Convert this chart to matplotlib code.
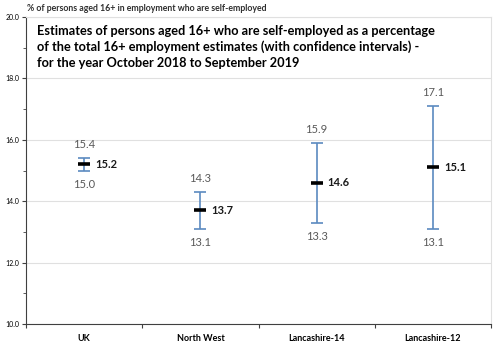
import numpy as np
import matplotlib.pyplot as plt
from matplotlib.ticker import MultipleLocator, FixedLocator

plt.rcParams['font.family'] = ['Lato', 'DejaVu Sans']

# self-employment rate estimates with confidence limits
areas = ['UK', 'North West', 'Lancashire-14', 'Lancashire-12']
estimate = [15.2, 13.7, 14.6, 15.1]
lower = [15.0, 13.1, 13.3, 13.1]
upper = [15.4, 14.3, 15.9, 17.1]

fig = plt.figure(figsize=(5.0, 3.47), dpi=100)
ax = fig.add_axes([0.052, 0.066, 0.93, 0.885])

x = np.arange(len(areas)) + 0.5
est = np.array(estimate)
lo = np.array(lower)
hi = np.array(upper)

ax.errorbar(x, est, yerr=[est - lo, hi - est], fmt='none', ecolor='#5b8ac0',
            elinewidth=1.2, capsize=4, capthick=1.2, zorder=3)
ax.scatter(x, est, marker='_', s=80, linewidths=2.6, color='black', zorder=4)

for xi, e, l, h in zip(x, estimate, lower, upper):
    ax.annotate('%.1f' % e, (xi, e), xytext=(8, 0), textcoords='offset points',
                ha='left', va='center', fontsize=8, fontweight='bold', color='#1a1a1a')
    ax.annotate('%.1f' % h, (xi, h), xytext=(0, 6), textcoords='offset points',
                ha='center', va='bottom', fontsize=8, color='#595959')
    ax.annotate('%.1f' % l, (xi, l), xytext=(0, -6), textcoords='offset points',
                ha='center', va='top', fontsize=8, color='#595959')

ax.set_xlim(0, len(areas))
ax.set_ylim(10, 20)
ax.yaxis.set_major_locator(MultipleLocator(2))
ax.yaxis.set_minor_locator(MultipleLocator(1))
ax.yaxis.set_major_formatter(plt.FuncFormatter(lambda v, p: '%.1f' % v))
ax.tick_params(axis='y', which='both', labelsize=5, direction='out', length=3,
               color='#404040', pad=2)
ax.tick_params(axis='y', which='minor', length=2)

ax.xaxis.set_major_locator(FixedLocator(np.arange(len(areas) + 1)))
ax.xaxis.set_minor_locator(FixedLocator(x))
ax.set_xticklabels([], minor=False)
ax.set_xticklabels(areas, minor=True, fontsize=6.5, fontweight='bold')
ax.tick_params(axis='x', which='major', direction='out', length=3, color='#404040')
ax.tick_params(axis='x', which='minor', length=0, pad=7)

ax.grid(axis='y', which='major', color='#e0e0e0', linewidth=0.8, zorder=0)
ax.set_axisbelow(True)
for side in ['left', 'bottom']:
    ax.spines[side].set_color('#404040')
    ax.spines[side].set_linewidth(0.8)
ax.spines['top'].set_color('#e0e0e0')
ax.spines['right'].set_color('#e0e0e0')

fig.text(0.054, 0.975, '% of persons aged 16+ in employment who are self-employed',
         fontsize=6.3, fontweight='bold', color='#303030', va='center')
ax.text(0.024, 0.975,
        'Estimates of persons aged 16+ who are self-employed as a percentage\n'
        'of the total 16+ employment estimates (with confidence intervals) -\n'
        'for the year October 2018 to September 2019',
        transform=ax.transAxes, fontsize=9.2, fontweight='bold', color='black',
        va='top', ha='left', linespacing=1.35)

fig.savefig('out.png', dpi=100)
